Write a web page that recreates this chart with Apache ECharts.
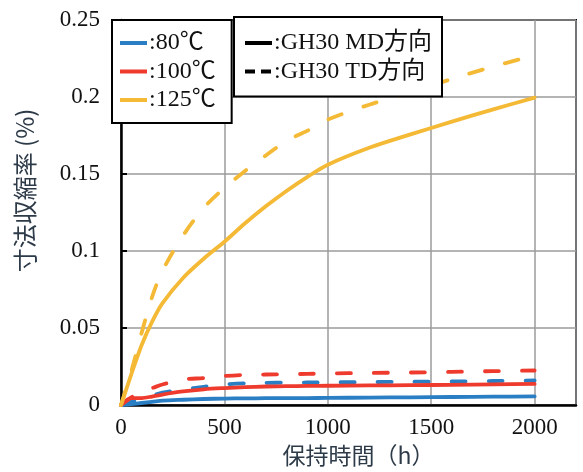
<!DOCTYPE html>
<html>
<head>
<meta charset="utf-8">
<script src="https://cdn.jsdelivr.net/npm/echarts@6/dist/echarts.min.js"></script>
<style>html,body{margin:0;padding:0;background:#fff}#c{width:583px;height:472px}</style>
</head>
<body>
<div id="c"></div>
<script>
// 保持時間 (h)
const hours = [0, 50, 100, 150, 200, 300, 400, 500, 600, 700, 800, 900, 1000, 1200, 1400, 1600, 1800, 2000];
// 寸法収縮率 (%)
const md80  = [0, 0.0006, 0.0013, 0.002, 0.0028, 0.0034, 0.0039, 0.0042, 0.0043, 0.0044, 0.0045, 0.0045, 0.0046, 0.0048, 0.005, 0.0052, 0.0054, 0.0056];
const td80  = [0, 0.002, 0.004, 0.006, 0.008, 0.0100, 0.0118, 0.0133, 0.0141, 0.0144, 0.0145, 0.0146, 0.0147, 0.0149, 0.0151, 0.0153, 0.0156, 0.0159];
const md100 = [0, 0.0045, 0.0045, 0.0055, 0.0068, 0.0088, 0.0102, 0.011, 0.0116, 0.012, 0.0122, 0.0124, 0.0125, 0.0127, 0.0129, 0.0131, 0.0134, 0.0137];
const td100 = [0, 0.005, 0.009, 0.011, 0.0133, 0.0165, 0.0175, 0.0188, 0.0196, 0.0198, 0.02, 0.0202, 0.0205, 0.0208, 0.0211, 0.0215, 0.022, 0.0224];
const md125 = [0, 0.02, 0.039, 0.054, 0.066, 0.0825, 0.095, 0.106, 0.118, 0.129, 0.139, 0.148, 0.156, 0.167, 0.1757, 0.184, 0.192, 0.1996];
const td125 = [0, 0.022, 0.047, 0.07, 0.087, 0.11, 0.128, 0.141, 0.152, 0.162, 0.1716, 0.178, 0.1853, 0.195, 0.2032, 0.2117, 0.2198, 0.227];

const tempLabels = [':80℃', ':100℃', ':125℃'];
const dirLabels = [':GH30 MD方向', ':GH30 TD方向'];
const colors = ['#2a7ec3', '#ee3b2e', '#f4b935'];
const xTicks = [0, 500, 1000, 1500, 2000];

const serifFont = "'Liberation Serif','Noto Sans CJK JP',serif";
const sansCJK = "'Noto Sans CJK JP','Noto Sans CJK SC',sans-serif";
const dash = [14, 23];

function pairs(arr) { return hours.map((h, i) => [h, arr[i]]); }
function mk(name, arr, color, dashed) {
  return {
    name: name, type: 'line', data: pairs(arr), showSymbol: false, symbol: 'none',
    smooth: 0.3, silent: true,
    lineStyle: { color: color, width: 3.8, type: dashed ? dash : 'solid', cap: 'round', join: 'round' },
    itemStyle: { color: color }, z: 3
  };
}
function legendOnly(name, color, type) {
  return { name: name, type: 'line', data: [], symbol: 'none',
    lineStyle: { color: color, width: 4, type: type }, itemStyle: { color: color } };
}

const series = [
  mk('80MD', md80, colors[0], false),
  mk('80TD', td80, colors[0], true),
  mk('100MD', md100, colors[1], false),
  mk('100TD', td100, colors[1], true),
  mk('125MD', md125, colors[2], false),
  mk('125TD', td125, colors[2], true),
  legendOnly(tempLabels[0], colors[0], 'solid'),
  legendOnly(tempLabels[1], colors[1], 'solid'),
  legendOnly(tempLabels[2], colors[2], 'solid'),
  legendOnly(dirLabels[0], '#000', 'solid'),
  legendOnly(dirLabels[1], '#000', [10, 6])
];

const legendCommon = {
  orient: 'vertical', itemWidth: 27, itemHeight: 14, itemGap: 4.5,
  backgroundColor: '#fff', borderColor: '#000', borderWidth: 2,
  itemStyle: { opacity: 0, color: 'transparent', borderWidth: 0 },
  lineStyle: { width: 4 },
  textStyle: { fontFamily: serifFont, fontSize: 24, color: '#111', padding: [0, 0, 0, -3] },
  selectedMode: false, z: 10
};

const chart = echarts.init(document.getElementById('c'), null, { renderer: 'canvas' });
chart.setOption({
  animation: false,
  backgroundColor: '#fff',
  textStyle: { fontFamily: serifFont },
  grid: { left: 121, right: 7, top: 20, bottom: 64, show: true, borderColor: '#000', borderWidth: 2, backgroundColor: 'transparent' },
  xAxis: {
    type: 'value', min: 0, max: 2200, interval: 500,
    name: '保持時間（h）', nameLocation: 'middle', nameGap: 39,
    nameTextStyle: { fontFamily: sansCJK, fontSize: 23, color: '#2d3a48', padding: [0, 0, 0, 20] },
    axisLine: { show: true, onZero: false, lineStyle: { color: '#000', width: 2.5 } },
    axisTick: { show: false },
    axisLabel: { fontFamily: serifFont, fontSize: 23, color: '#111', margin: 11, showMaxLabel: false,
      formatter: v => xTicks.indexOf(v) >= 0 ? String(v) : '' },
    splitLine: { show: true, lineStyle: { color: '#9b9b9b', width: 1.5 } }
  },
  yAxis: {
    type: 'value', min: 0, max: 0.25, interval: 0.05,
    name: '寸法収縮率 (%)', nameLocation: 'middle', nameGap: 84, nameRotate: 90,
    nameTextStyle: { fontFamily: sansCJK, fontSize: 24, color: '#2d3a48', padding: [0, 0, 0, 44] },
    axisLine: { show: true, lineStyle: { color: '#000', width: 2.5 } },
    axisTick: { show: true, inside: true, length: 6, lineStyle: { color: '#000', width: 2 } },
    axisLabel: { fontFamily: serifFont, fontSize: 23, color: '#111', margin: 21 },
    splitLine: { show: true, lineStyle: { color: '#9b9b9b', width: 1.5 } }
  },
  legend: [
    Object.assign({}, legendCommon, { data: tempLabels, left: 112, top: 20, padding: [11, 16, 11, 6] }),
    Object.assign({}, legendCommon, { data: dirLabels, left: 234, top: 17, padding: [14, 10, 13, 9] })
  ],
  series: series
});
</script>
</body>
</html>
